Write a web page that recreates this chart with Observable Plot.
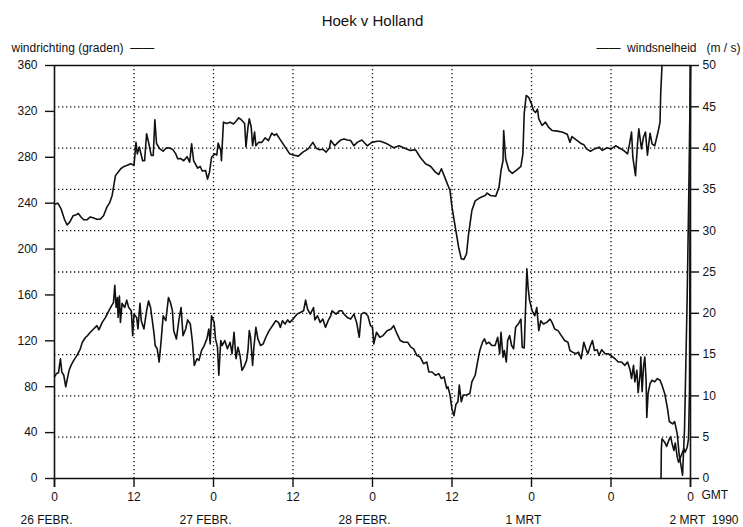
<!DOCTYPE html>
<html>
<head>
<meta charset="utf-8">
<script src="https://cdn.jsdelivr.net/npm/d3@7"></script>
<script src="https://cdn.jsdelivr.net/npm/@observablehq/plot@0.6"></script>
<style>
  html, body { margin: 0; padding: 0; background: #fff; }
  #chart { width: 743px; height: 527px; }
</style>
</head>
<body>
<div id="chart"></div>
<script>
// ---- data ----
const title = "Hoek v Holland";
const leftLegend = "windrichting (graden)  ——";
const rightLegend = "——  windsnelheid   (m / s)";

const dirTicks = [0, 40, 80, 120, 160, 200, 240, 280, 320, 360];
const speedTicks = [0, 5, 10, 15, 20, 25, 30, 35, 40, 45, 50];
const hourTicks = [0, 12, 24, 36, 48, 60, 72, 84, 96];
const hourLabels = ["0", "12", "0", "12", "0", "12", "0", "0", "0"];
const dayTicks = [0, 24, 48, 72];
const dayLabels = ["26 FEBR.", "27 FEBR.", "28 FEBR.", "1 MRT"];
const lastDay = [96];
const lastDayLabel = "2 MRT  1990";
const gmtLabel = "GMT";

// wind direction (degrees) [hour, value]
const direction = [[0,239],[0.5,240],[1,235],[1.5,226],[1.9,221],[2.3,223.5],[2.8,229],[3.3,230],[3.6,231],[4,228],[4.4,225.5],[4.9,225.5],[5.4,228],[5.9,227],[6.4,226],[6.9,226],[7.4,229],[7.9,236.5],[8.3,240],[8.7,246.7],[9,257],[9.2,264],[9.6,267],[10,270],[10.5,272],[11,273],[11.5,274.4],[12,273],[12.3,293],[12.5,283],[12.8,289],[13.3,277],[13.6,277],[13.9,300.5],[14.2,293],[14.6,281.6],[14.9,281.6],[15.15,312.6],[15.4,292],[15.9,287.3],[16.4,285.3],[16.9,288.3],[17.4,288],[17.9,286.5],[18.3,283],[18.6,278.7],[19,279],[19.5,277],[20,280.5],[20.4,275.7],[20.7,291.7],[21,277],[21.6,270.5],[22,272],[22.3,268],[22.8,268.5],[23.1,261],[23.4,267],[23.7,280],[24.2,283],[24.5,282],[24.7,292.3],[25.1,286],[25.2,277],[25.5,310.6],[26,309.5],[26.5,310.6],[27,309],[27.5,312],[27.8,314.4],[28.2,312.7],[28.7,309.5],[28.9,289],[29.2,306],[29.4,313.6],[29.7,306],[29.9,290],[30.2,302],[30.4,290],[30.8,293],[31.3,293],[31.8,297],[32.3,294.6],[32.8,301],[33.2,299],[33.5,300.5],[34,296],[34.5,291.7],[35,287.3],[35.5,283],[36,282],[36.8,281],[37.5,284.5],[38.3,287.3],[39,293],[39.5,288],[40,286.5],[40.5,287],[41,284.5],[41.5,288],[41.7,294.6],[42.3,290],[42.8,293],[43.2,295],[43.7,296],[44.2,295],[44.7,294.6],[45.2,290],[45.7,293],[46.4,295],[47.2,290],[47.9,293],[48.7,294],[49.2,294],[50.2,291.7],[51.2,288.3],[52,290],[52.7,288.3],[53.7,286],[54.5,286.5],[55.2,280],[56,274.3],[56.8,272],[57.5,267],[58,265],[58.4,270],[58.9,262.7],[59.4,255.4],[59.7,251],[60,236.5],[60.5,219],[61,201.6],[61.4,191.5],[61.8,191],[62.2,195.9],[62.5,213],[63,233.6],[63.5,242],[64.3,245],[65,246.7],[65.3,248.8],[65.8,246.7],[66.6,246],[67.1,254],[67.4,268.5],[67.7,277],[67.8,303.4],[68.1,278.5],[68.6,268.5],[69.1,266],[69.8,269],[70.4,272],[70.7,283],[70.9,318],[71.2,333.9],[71.6,332],[72,326.6],[72.3,320.8],[72.6,319],[72.9,322],[73.1,313.5],[73.6,307.7],[74.1,310.6],[74.6,306],[75.1,303.4],[75.9,302.8],[76.6,302],[77.4,300],[77.8,293],[78.1,298],[78.9,294.6],[79.4,292.3],[79.9,291],[80.3,287.3],[80.9,285.3],[81.5,287.3],[82.2,288.8],[82.7,286],[83.4,288.3],[84,287.3],[84.7,290],[85.2,288.3],[85.9,286],[86.5,283],[86.8,291.7],[87.1,302],[87.3,280],[87.7,264],[88,291.7],[88.2,304.8],[88.6,287.3],[88.9,297.5],[89.2,302],[89.5,281.8],[89.9,301],[90.2,291.7],[90.6,290],[91.1,302],[91.4,310.6],[91.5,335.3],[91.7,360]];

// wind direction after passing 360 (drawn from 0 again) [hour, value]
const directionWrapped = [[91.55,0],[91.6,26],[91.7,34.6],[92.1,31.7],[92.4,28],[92.7,33],[93,36.6],[93.2,31],[93.5,24.4],[93.7,31],[94,18.6],[94.2,14.2],[94.5,18.6],[94.7,21.5],[95,26],[95.2,23],[95.5,27.3],[95.7,34.6],[95.85,77],[96,360]];

// wind speed (m/s) [hour, value]
const speed = [[0,12.3],[0.3,12.7],[0.6,12.8],[0.9,14.5],[1.1,12.9],[1.4,12.5],[1.7,11.1],[1.9,11.9],[2.2,13.1],[2.5,13.7],[2.9,14.3],[3.4,14.9],[3.9,15.7],[4.2,16.5],[4.7,17.1],[5,17.3],[5.4,17.7],[5.9,18.1],[6.4,18.5],[6.7,18],[7.2,18.9],[7.7,19.5],[8.2,20.3],[8.6,20.9],[8.9,21.3],[9.1,23.4],[9.3,20.7],[9.5,21.9],[9.6,19.5],[9.8,22.1],[9.95,18.9],[10.2,21.2],[10.6,20.7],[10.9,21.6],[11.2,20.7],[11.6,20.3],[11.8,17.3],[12,19.9],[12.4,19.5],[12.6,18.1],[12.9,21.2],[13.1,19.1],[13.5,18.1],[13.9,20.3],[14.2,21.5],[14.5,20.7],[14.7,19.5],[15,17.7],[15.2,16.1],[15.5,15.7],[15.8,14.1],[16.1,16.7],[16.4,19.7],[16.8,19.1],[17.2,21.9],[17.5,21.3],[17.8,20.3],[18,17.9],[18.4,16.9],[18.8,19.3],[19.1,20.7],[19.4,17.3],[19.8,18.1],[20.1,19.2],[20.5,18.7],[20.8,16.7],[21.1,13.7],[21.5,14.5],[21.8,14.3],[22.2,15.5],[22.6,16.1],[23,16.9],[23.3,18.1],[23.5,16.3],[23.7,19.7],[24.1,18.9],[24.3,16.9],[24.6,15.9],[24.8,12.5],[25.1,16.7],[25.3,16.1],[25.7,16.7],[26.1,15.7],[26.5,16.5],[26.8,15.1],[27.1,17.7],[27.4,14.5],[27.7,15.9],[28,14.9],[28.3,13.1],[28.6,13.5],[29,14.3],[29.2,15.5],[29.4,17.9],[29.6,17.1],[29.9,13.7],[30.1,15.9],[30.4,18.3],[30.7,16.9],[31.1,16.1],[31.5,16.3],[31.9,17.1],[32.4,17.9],[32.9,18.5],[33.4,19.1],[33.8,18.9],[34.1,18.3],[34.4,19.1],[34.8,18.7],[35.2,19.2],[35.5,18.9],[36,19.3],[36.6,19.9],[37.1,20.1],[37.6,20.3],[37.9,21.6],[38.2,20.5],[38.6,19.9],[39.1,20.7],[39.3,19.2],[39.7,19.7],[40.1,18.9],[40.5,19.3],[40.9,18.3],[41.3,19.1],[41.7,19.7],[41.9,20.3],[42.5,19.9],[43,20.3],[43.4,20.3],[43.7,19.9],[44.2,19.5],[44.7,19.3],[45.2,19.9],[45.6,18.9],[46,17.1],[46.3,19.9],[46.8,20.1],[47.3,19.7],[47.7,18.5],[48,18.3],[48.2,16.3],[48.6,17.7],[49.1,17.1],[49.6,17.3],[50.2,17.9],[50.8,18.1],[51.2,18.5],[51.6,17.7],[52.2,16.7],[52.7,16.5],[53.3,16.5],[53.8,15.9],[54.2,15.7],[54.7,14.9],[55.2,14.7],[55.7,13.9],[56.2,14.1],[56.5,12.9],[57,12.9],[57.5,12.5],[58,12.7],[58.4,12.1],[58.8,12.3],[59.2,10.9],[59.4,11.1],[59.7,10.1],[60,8.4],[60.3,7.6],[60.6,9],[60.9,9.3],[61.1,11.3],[61.4,9.3],[61.7,10.1],[62.2,10.1],[62.7,10.3],[63,11.7],[63.5,12.5],[63.9,14.3],[64.2,15.5],[64.6,16.5],[64.9,16.9],[65.2,16.3],[65.6,16.5],[66,16.1],[66.5,16.1],[66.9,17.1],[67.2,15.1],[67.4,17.7],[67.7,14.7],[67.9,15.5],[68.2,14.1],[68.4,16.7],[68.7,17.3],[69,16.1],[69.3,15.7],[69.6,18.3],[70,18.7],[70.4,19.3],[70.6,15.9],[70.9,15.8],[71.1,20.5],[71.3,25.4],[71.5,23],[71.7,21.6],[72.1,20.3],[72.5,19.7],[72.8,20.7],[73.1,17.9],[73.4,19.1],[73.8,18.7],[74.3,18.9],[74.8,19.3],[75.1,18.9],[75.5,18.1],[76,17.9],[76.5,17.3],[77,16.7],[77.5,16.5],[77.8,15.5],[78.2,15.3],[78.7,15.1],[79.1,15.3],[79.5,14.5],[79.9,16.5],[80.2,15.7],[80.5,15.1],[80.9,16.1],[81.2,16.7],[81.5,15.5],[81.9,15.6],[82.2,14.9],[82.6,15.6],[83.1,15.1],[83.6,15.1],[84.1,14.8],[84.6,14.5],[85.1,14.1],[85.6,14.1],[86.1,13.7],[86.5,14.1],[86.9,13.1],[87.1,12.1],[87.4,13.7],[87.6,11.7],[87.9,13.1],[88.1,10.4],[88.4,12.7],[88.5,14.7],[88.7,10.5],[88.9,13.5],[89.1,14.7],[89.3,11.9],[89.4,7.4],[89.6,10.3],[89.9,11.5],[90.2,11.9],[90.6,11.7],[91,12.1],[91.4,11.9],[91.7,11.3],[92.1,10.3],[92.5,8.6],[92.8,6.9],[93.3,6.6],[93.6,6.9],[94,5.4],[94.3,2.8],[94.6,1.4],[94.8,0.4],[95.1,6],[95.5,22],[95.75,35],[96,50]];

// ---- chart ----
const K = 360 / 50; // m/s -> left-axis units
const font = "'Liberation Sans', Arial, Helvetica, sans-serif";
const black = "#111";

const chart = Plot.plot({
  width: 743,
  height: 527,
  marginTop: 65,
  marginBottom: 49,
  marginLeft: 54,
  marginRight: 53,
  style: { fontFamily: font, fontSize: "12px", color: black, background: "#fff" },
  x: { domain: [0, 96] },
  y: { domain: [0, 360] },
  marks: [
    // dotted grid (horizontal at the speed ticks, vertical every 12 hours)
    Plot.gridY(speedTicks.filter(s => s > 0 && s < 50).map(s => s * K), {
      stroke: black, strokeOpacity: 1, strokeWidth: 1.3, strokeDasharray: "1.3,2.7"
    }),
    Plot.gridX(hourTicks.filter(h => h > 0 && h < 96), {
      stroke: black, strokeOpacity: 1, strokeWidth: 1.3, strokeDasharray: "1.3,2.7"
    }),
    // frame
    Plot.ruleY([0, 360], { stroke: black, strokeWidth: 1.6 }),
    Plot.ruleX([0, 96], { stroke: black, strokeWidth: 1.6, insetBottom: -9 }),
    // axes
    Plot.axisY(dirTicks, {
      anchor: "left", label: null, tickSize: 9, tickPadding: 8,
      strokeWidth: 1.4, fontSize: 12, tickFormat: d => String(d)
    }),
    Plot.axisY(speedTicks.map(s => s * K), {
      anchor: "right", label: null, tickSize: 8, tickPadding: 4,
      strokeWidth: 1.4, fontSize: 12, tickFormat: d => String(Math.round(d / K))
    }),
    Plot.axisX(hourTicks, {
      anchor: "bottom", label: null, tickSize: 9, tickPadding: 5,
      strokeWidth: 1.4, fontSize: 12,
      tickFormat: d => hourLabels[hourTicks.indexOf(d)]
    }),
    Plot.text([96], { x: d => d, text: () => gmtLabel, frameAnchor: "bottom", dy: 20, dx: 11, textAnchor: "start", fontSize: 12 }),
    Plot.text(dayTicks, { x: d => d, text: (d, i) => dayLabels[i], frameAnchor: "bottom", dy: 45, dx: -8, fontSize: 12 }),
    Plot.text(lastDay, { x: d => d, text: () => lastDayLabel, frameAnchor: "bottom", dy: 45, dx: 48, textAnchor: "end", fontSize: 12 }),
    // data
    Plot.line(direction, { x: d => d[0], y: d => d[1], stroke: black, strokeWidth: 1.6, strokeLinejoin: "round" }),
    Plot.line(directionWrapped, { x: d => d[0], y: d => d[1], stroke: black, strokeWidth: 1.6, strokeLinejoin: "round" }),
    Plot.line(speed, { x: d => d[0], y: d => d[1] * K, stroke: black, strokeWidth: 1.6, strokeLinejoin: "round" }),
    // title and legend
    Plot.text([title], { frameAnchor: "top", dy: -50, fontSize: 15, text: d => d }),
    Plot.text([leftLegend], { frameAnchor: "top-left", dx: -43, dy: -22, textAnchor: "start", fontSize: 12, text: d => d }),
    Plot.text([rightLegend], { frameAnchor: "top-right", dx: 50, dy: -22, textAnchor: "end", fontSize: 12, text: d => d })
  ]
});

document.getElementById("chart").appendChild(chart);
</script>
</body>
</html>
